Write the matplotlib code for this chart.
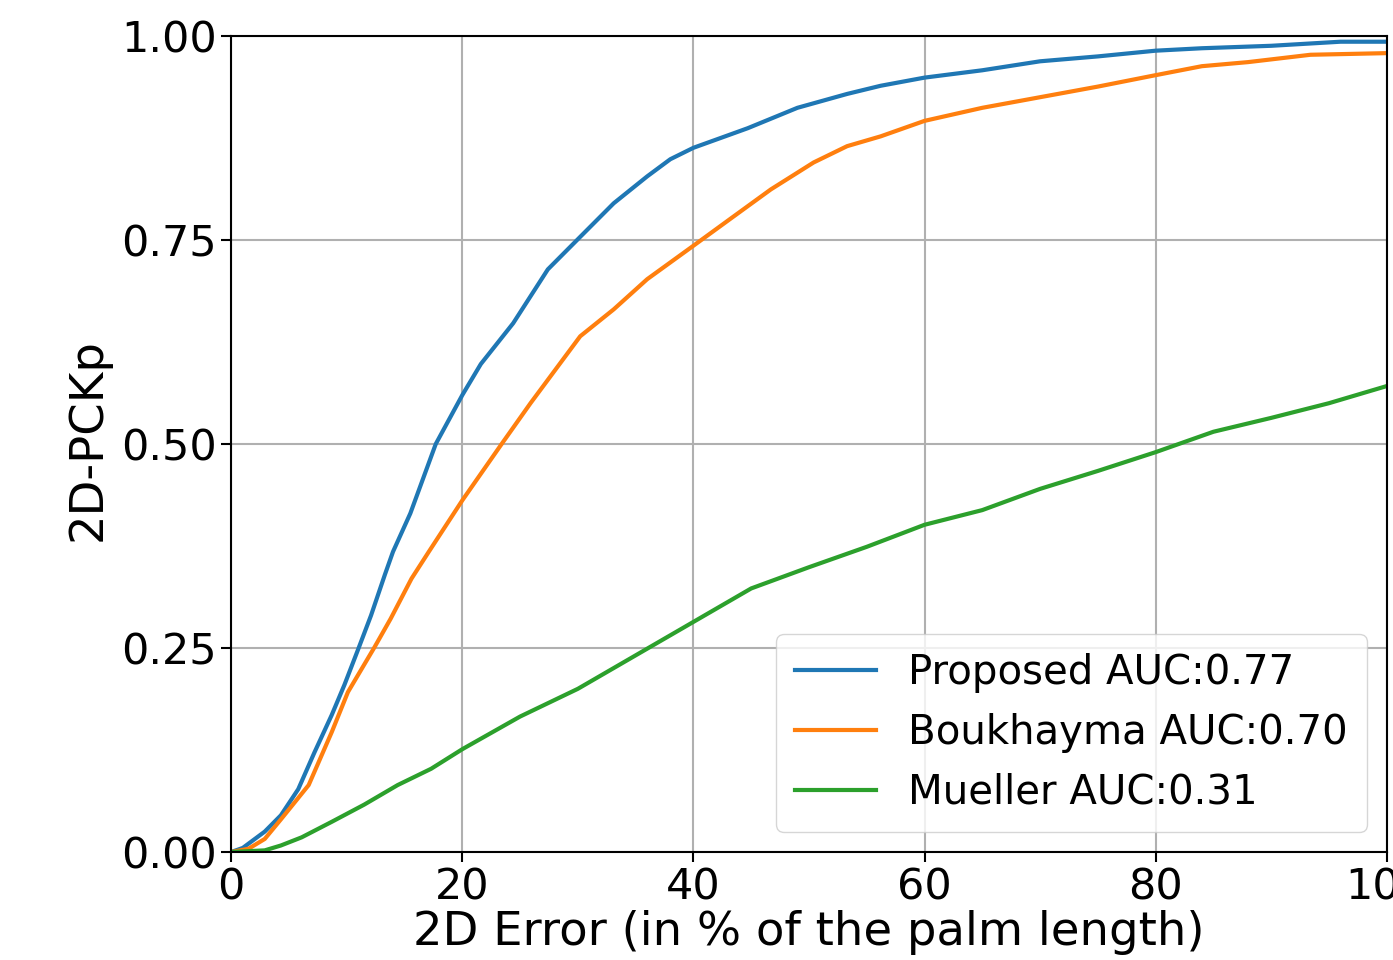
import matplotlib
matplotlib.use('Agg')
import matplotlib.pyplot as plt

# values (error threshold in % of palm length -> PCK)
prop_x = [0, 1, 2.9, 4.3, 5.8, 7.2, 8.7, 9.8, 11.0, 12.1, 13.3, 14.0, 15.5, 17.7, 20,
          21.6, 24.4, 27.4, 30, 33.1, 36, 38, 40, 44.7, 49, 53.3, 56.2, 60, 65, 70,
          75, 80, 84, 90, 96, 100]
prop_y = [0, 0.005, 0.025, 0.045, 0.077, 0.122, 0.168, 0.205, 0.249, 0.29, 0.34, 0.368,
          0.415, 0.50, 0.56, 0.598, 0.648, 0.714, 0.751, 0.795, 0.828, 0.849, 0.863,
          0.887, 0.912, 0.929, 0.939, 0.949, 0.958, 0.969, 0.975, 0.982, 0.985, 0.988,
          0.993, 0.993]

bouk_x = [0, 1.5, 2.9, 4.3, 6.7, 8.7, 10.1, 12.4, 13.8, 15.6, 17.1, 20, 23.4, 25.9,
          30.2, 33.1, 36, 40, 43.2, 46.7, 50.4, 53.3, 56.2, 60, 65, 70, 75, 80, 84,
          88, 93.4, 100]
bouk_y = [0, 0.004, 0.016, 0.04, 0.082, 0.147, 0.196, 0.251, 0.286, 0.335, 0.368,
          0.431, 0.50, 0.55, 0.632, 0.665, 0.702, 0.743, 0.776, 0.812, 0.845, 0.865,
          0.877, 0.896, 0.912, 0.925, 0.938, 0.952, 0.963, 0.968, 0.977, 0.979]

muel_x = [0, 2.9, 4.3, 6.1, 8.7, 11.5, 14.4, 17.3, 20, 25, 30, 35, 40, 45, 50, 55,
          60, 65, 70, 75, 80, 85, 90, 95, 100]
muel_y = [0, 0.002, 0.008, 0.018, 0.037, 0.058, 0.082, 0.102, 0.126, 0.166, 0.2,
          0.241, 0.282, 0.323, 0.349, 0.374, 0.401, 0.419, 0.445, 0.467, 0.49, 0.515,
          0.532, 0.55, 0.571]

labels = ['Proposed AUC:0.77', 'Boukhayma AUC:0.70', 'Mueller AUC:0.31']
x_ticks = [0, 20, 40, 60, 80, 100]
y_ticks = [0.0, 0.25, 0.5, 0.75, 1.0]

fig = plt.figure(figsize=(13.93, 9.6), dpi=100)
ax = fig.add_axes([0.166, 0.1125, 0.8295, 0.85])

ax.plot(prop_x, prop_y, color='#1f77b4', lw=3, label=labels[0])
ax.plot(bouk_x, bouk_y, color='#ff7f0e', lw=3, label=labels[1])
ax.plot(muel_x, muel_y, color='#2ca02c', lw=3, label=labels[2])

ax.set_xlim(0, 100)
ax.set_ylim(0, 1)
ax.set_xticks(x_ticks)
ax.set_yticks(y_ticks)
ax.set_yticklabels(['%.2f' % v for v in y_ticks])
ax.grid(True, color='#b0b0b0', lw=1.5)
ax.tick_params(labelsize=31, length=7, width=1.5)
for s in ax.spines.values():
    s.set_linewidth(1.5)

# the "100" tick label runs off the right edge, same as the original figure
ax.set_xlabel('2D Error (in % of the palm length)', fontsize=33.5, labelpad=1)
ax.set_ylabel('2D-PCKp', fontsize=33.5)
ax.yaxis.set_label_coords(-0.104, 0.505)
ax.legend(loc='lower right', fontsize=29, borderpad=0.47, labelspacing=0.5)

fig.savefig('out.png', dpi=100)
